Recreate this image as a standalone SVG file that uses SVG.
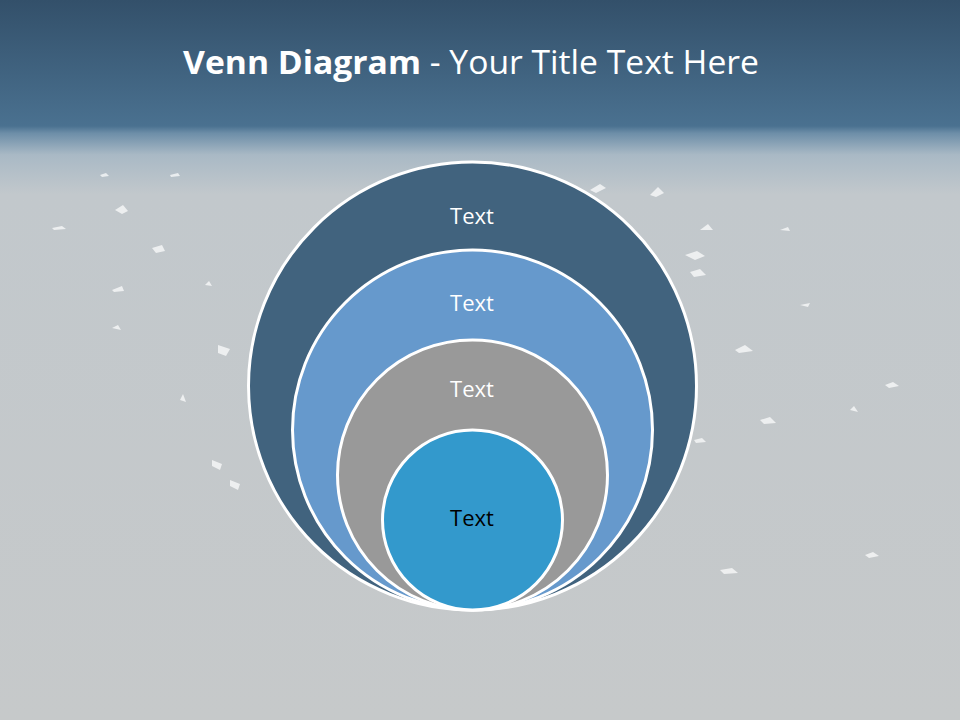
<svg xmlns="http://www.w3.org/2000/svg" width="960" height="720" viewBox="0 0 960 720">
  <defs>
    <linearGradient id="bg" x1="0" y1="0" x2="0" y2="1">
      <stop offset="0" stop-color="#33506a"/>
      <stop offset="0.175" stop-color="#4a7190"/>
      <stop offset="0.185" stop-color="#6d8ea8"/>
      <stop offset="0.215" stop-color="#a9b9c5"/>
      <stop offset="0.27" stop-color="#c2c8cc"/>
      <stop offset="1" stop-color="#c6c9ca"/>
    </linearGradient>
    <style>
      .ring { stroke: #ffffff; stroke-width: 3; }
      .lbl { font-family: "Open Sans", "Liberation Sans", sans-serif; font-size: 22px; text-anchor: middle; fill: #ffffff; }
      .frag { fill: #ffffff; opacity: 0.7; }
    </style>
  </defs>
  <rect x="0" y="0" width="960" height="720" fill="url(#bg)"/>
  <g id="fragments">
    <path class="frag" d="M115 210 l8 -5 l5 6 l-6 3 z"/>
    <path class="frag" d="M152 248 l10 -3 l3 6 l-9 2 z"/>
    <path class="frag" d="M52 228 l10 -2 l4 3 l-12 1 z"/>
    <path class="frag" d="M112 290 l10 -4 l2 5 l-10 1 z"/>
    <path class="frag" d="M218 345 l12 4 l-4 7 l-8 -3 z"/>
    <path class="frag" d="M100 175 l6 -2 l3 3 l-7 1 z"/>
    <path class="frag" d="M170 175 l8 -2 l2 3 l-9 1 z"/>
    <path class="frag" d="M112 328 l6 -3 l3 5 z"/>
    <path class="frag" d="M205 285 l4 -4 l3 5 z"/>
    <path class="frag" d="M180 400 l3 -6 l3 8 z"/>
    <path class="frag" d="M590 190 l10 -6 l6 4 l-10 5 z"/>
    <path class="frag" d="M650 195 l8 -8 l6 6 l-8 4 z"/>
    <path class="frag" d="M685 255 l12 -4 l8 5 l-10 4 z"/>
    <path class="frag" d="M690 272 l10 -3 l6 6 l-12 2 z"/>
    <path class="frag" d="M700 230 l8 -6 l5 6 z"/>
    <path class="frag" d="M735 350 l10 -5 l8 6 l-14 2 z"/>
    <path class="frag" d="M800 305 l10 -2 l-2 4 z"/>
    <path class="frag" d="M760 420 l10 -3 l6 6 l-12 1 z"/>
    <path class="frag" d="M885 385 l8 -3 l6 4 l-10 2 z"/>
    <path class="frag" d="M850 410 l4 -4 l4 6 z"/>
    <path class="frag" d="M780 230 l8 -3 l2 4 z"/>
    <path class="frag" d="M865 555 l8 -3 l6 4 l-10 2 z" opacity="0.5"/>
    <path class="frag" d="M720 570 l12 -2 l6 5 l-14 1 z" opacity="0.5"/>
    <path class="frag" d="M212 460 l10 4 l-2 6 l-8 -4 z" opacity="0.5"/>
    <path class="frag" d="M230 480 l10 4 l-2 6 l-8 -4 z" opacity="0.5"/>
    <path class="frag" d="M694 440 l8 -2 l4 4 l-10 1 z"/>
  </g>
  <text x="471" y="74" font-family="Open Sans, Liberation Sans, sans-serif" font-size="32" fill="#ffffff" text-anchor="middle" textLength="576" lengthAdjust="spacingAndGlyphs"><tspan font-weight="bold">Venn Diagram</tspan> - Your Title Text Here</text>
  <g id="connectors"/>
  <g id="circle1">
    <circle class="ring" cx="472.5" cy="386" r="224" fill="#41637e"/>
    <text class="lbl" x="472" y="224">Text</text>
  </g>
  <g id="circle2">
    <circle class="ring" cx="472.5" cy="430" r="180" fill="#6699cc"/>
    <text class="lbl" x="472" y="311">Text</text>
  </g>
  <g id="circle3">
    <circle class="ring" cx="472.5" cy="475" r="135" fill="#999999"/>
    <text class="lbl" x="472" y="397">Text</text>
  </g>
  <g id="circle4">
    <circle class="ring" cx="472.5" cy="520" r="90" fill="#3399cc"/>
    <text class="lbl" x="472" y="526" style="fill:#000000">Text</text>
  </g>
</svg>
